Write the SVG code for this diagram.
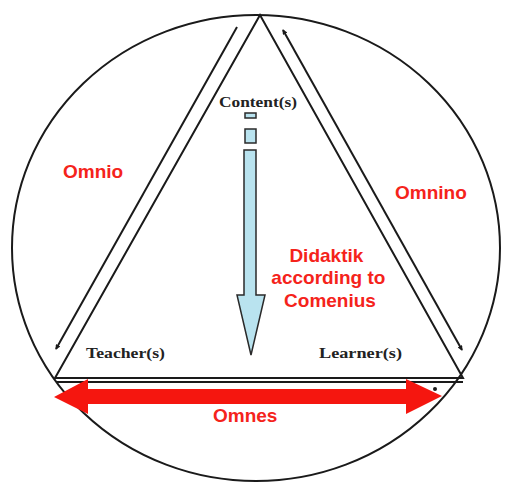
<svg xmlns="http://www.w3.org/2000/svg" width="505" height="483" viewBox="0 0 505 483">
<defs>
<style>
.ln{fill:none;stroke:#1a1a1a;stroke-width:2}
.lbl{font-family:"Liberation Serif","Times New Roman",serif;font-weight:bold;font-size:14.5px;fill:#222}
.red{font-family:"Liberation Sans",Arial,sans-serif;font-weight:bold;font-size:19px;fill:#f5231b}
.blue{fill:#b9e3ef;stroke:#2a2a2a;stroke-width:1.5}
</style>
<marker id="ah" viewBox="0 0 6 6" refX="5" refY="3" markerWidth="2.6" markerHeight="2.6" orient="auto-start-reverse">
<path d="M0,0 L6,3 L0,6 z" fill="#1a1a1a"/>
</marker>
</defs>
<rect width="505" height="483" fill="#fff"/>
<g id="frame">
<ellipse cx="256" cy="248" rx="244" ry="233" class="ln"/>
</g>
<g id="connectors">
<polygon points="260,15 55,378 463,378" class="ln"/>
<line x1="57" y1="382" x2="463" y2="382" class="ln" stroke-width="1.5"/>
<line x1="237" y1="27" x2="56" y2="349" class="ln" marker-end="url(#ah)"/>
<line x1="283" y1="30" x2="462" y2="350" class="ln" marker-start="url(#ah)" marker-end="url(#ah)"/>
<circle cx="435" cy="389" r="2" fill="#1a1a1a"/>
</g>
<g id="content-arrow">
<rect x="245" y="113" width="11" height="5" class="blue"/>
<rect x="245" y="129" width="11" height="14" class="blue"/>
<path d="M244,150 H256 V295 H265 L251,355 L237,295 H244 Z" class="blue"/>
</g>
<g id="omnes-arrow">
<path d="M54,397 L88,379 V389 H406 V379 L442,396 L406,414 V404 H88 V414 Z" fill="#f5160f"/>
</g>
<g id="content"><text x="258" y="107" class="lbl" text-anchor="middle" textLength="78" lengthAdjust="spacingAndGlyphs">Content(s)</text></g>
<g id="teacher"><text x="86" y="358" class="lbl" textLength="79" lengthAdjust="spacingAndGlyphs">Teacher(s)</text></g>
<g id="learner"><text x="319" y="358" class="lbl" textLength="83" lengthAdjust="spacingAndGlyphs">Learner(s)</text></g>
<g id="omnio"><text x="63" y="178" class="red">Omnio</text></g>
<g id="omnino"><text x="395" y="199" class="red">Omnino</text></g>
<g id="didaktik">
<text class="red" text-anchor="middle">
<tspan x="329" y="262">Didaktik</tspan>
<tspan x="331" y="284">according to</tspan>
<tspan x="330" y="307">Comenius</tspan>
</text>
</g>
<g id="omnes"><text x="213" y="422" class="red">Omnes</text></g>
</svg>
